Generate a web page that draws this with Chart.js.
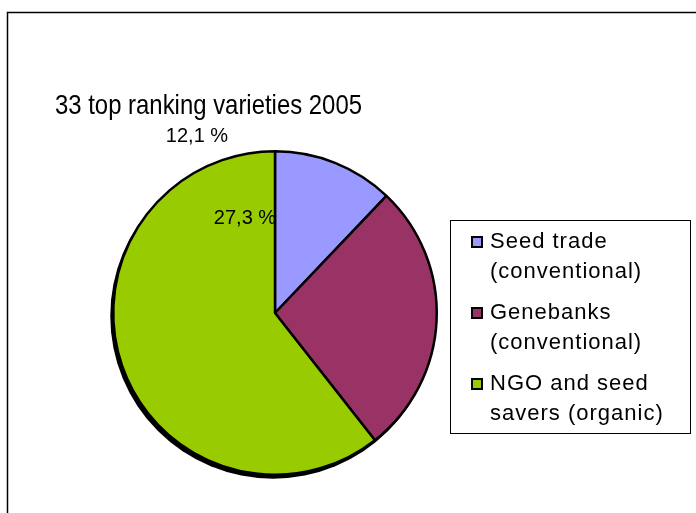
<!DOCTYPE html>
<html><head><meta charset="utf-8">
<script src="https://cdn.jsdelivr.net/npm/chart.js@4.4.0/dist/chart.umd.min.js"></script>
<style>html,body{margin:0;padding:0;background:#fff}canvas{display:block}</style>
</head><body>
<canvas id="c" width="696" height="513"></canvas>
<script>
const title = "33 top ranking varieties 2005";
const categories = ["Seed trade (conventional)", "Genebanks (conventional)", "NGO and seed savers (organic)"];
const legendLines = [["Seed trade", "(conventional)"], ["Genebanks", "(conventional)"], ["NGO and seed", "savers (organic)"]];
const values = [12.1, 27.3, 60.6];
const shownLabels = ["12,1 %", "27,3 %", ""];
const colors = ["#9999FF", "#993366", "#99CC00"];

const FONT = "'Liberation Sans', Arial, sans-serif";

const decor = {
  id: 'decor',
  beforeDraw(chart) {
    const ctx = chart.ctx;
    ctx.save();
    ctx.fillStyle = '#fff';
    ctx.fillRect(0, 0, chart.width, chart.height);
    ctx.strokeStyle = '#000';
    ctx.lineWidth = 1.5;
    ctx.beginPath();
    ctx.moveTo(7.5, chart.height + 5);
    ctx.lineTo(7.5, 12.5);
    ctx.lineTo(chart.width + 5, 12.5);
    ctx.stroke();
    ctx.restore();
  },
  beforeDatasetsDraw(chart) {
    const arc = chart.getDatasetMeta(0).data[0];
    if (!arc) return;
    const ctx = chart.ctx;
    ctx.save();
    ctx.fillStyle = '#000';
    ctx.beginPath();
    ctx.arc(arc.x - 2, arc.y + 3, arc.outerRadius + 1, 0, Math.PI * 2);
    ctx.fill();
    ctx.restore();
  },
  afterDraw(chart) {
    const ctx = chart.ctx;
    ctx.save();
    // title (condensed as in the reference)
    ctx.fillStyle = '#000';
    ctx.textBaseline = 'alphabetic';
    ctx.textAlign = 'left';
    ctx.font = '28px ' + FONT;
    const tw = ctx.measureText(title).width;
    ctx.save();
    ctx.translate(55, 114);
    ctx.scale(307 / tw, 1);
    ctx.fillText(title, 0, 0);
    ctx.restore();
    // data labels (placed as in the reference)
    ctx.font = '20px ' + FONT;
    ctx.textAlign = 'center';
    ctx.textBaseline = 'middle';
    const pos = [[197, 136], [245, 218]];
    shownLabels.forEach((t, i) => { if (t) ctx.fillText(t, pos[i][0], pos[i][1]); });
    // legend
    ctx.lineWidth = 1;
    ctx.strokeStyle = '#000';
    ctx.strokeRect(450.5, 220.5, 240, 213);
    ctx.font = '22px ' + FONT;
    ctx.textAlign = 'left';
    ctx.textBaseline = 'middle';
    try { ctx.letterSpacing = '1px'; } catch (e) {}
    legendLines.forEach((lines, i) => {
      const y0 = 242 + i * 71;
      ctx.fillStyle = '#000';
      ctx.fillRect(471, y0 - 6, 12, 12);
      ctx.fillStyle = colors[i];
      ctx.fillRect(473, y0 - 4, 8, 8);
      ctx.fillStyle = '#000';
      lines.forEach((l, j) => ctx.fillText(l, 490, y0 + j * 30));
    });
    ctx.restore();
  }
};

new Chart(document.getElementById('c'), {
  type: 'pie',
  data: {
    labels: categories,
    datasets: [{
      data: values,
      backgroundColor: colors,
      borderColor: '#000',
      borderWidth: 2.5,
      borderAlign: 'center'
    }]
  },
  options: {
    responsive: false,
    animation: false,
    layout: { padding: { left: 112, right: 258, top: 150, bottom: 37 } },
    plugins: { legend: { display: false }, title: { display: false }, tooltip: { enabled: false } }
  },
  plugins: [decor]
});
</script>
</body></html>
